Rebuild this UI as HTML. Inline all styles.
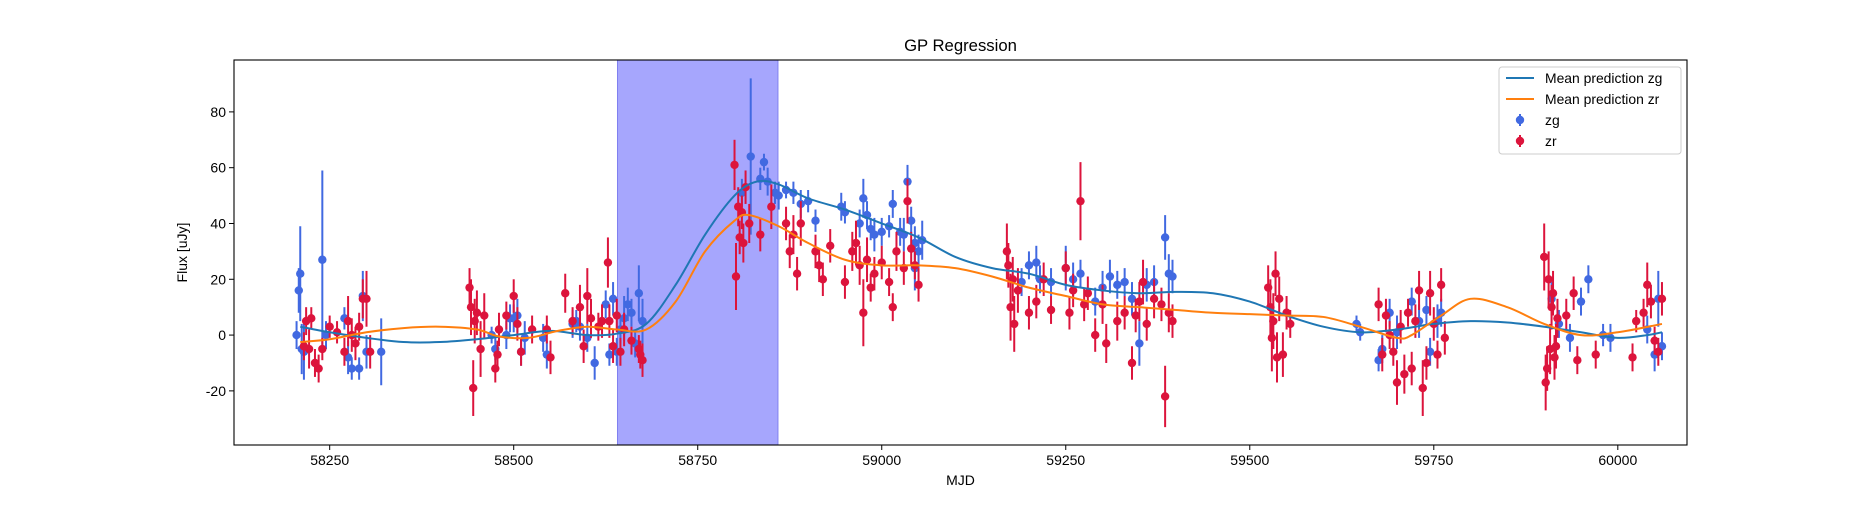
<!DOCTYPE html>
<html><head><meta charset="utf-8"><style>
body{margin:0;background:#fff}
svg text{font-family:"Liberation Sans","DejaVu Sans",sans-serif;fill:#000}
</style></head><body>
<svg id="chart" width="1875" height="500" xmlns="http://www.w3.org/2000/svg">
<rect width="1875" height="500" fill="#fff"/>
<g id="plot"></g>
</svg>
<script>
const zgX=[58205,58208,58210,58212,58215,58240,58245,58270,58275,58280,58290,58295,58300,58320,58470,58475,58490,58495,58500,58505,58510,58515,58540,58545,58580,58585,58590,58600,58610,58625,58630,58635,58640,58645,58650,58655,58660,58665,58670,58675,58810,58822,58835,58840,58845,58855,58860,58870,58880,58890,58900,58910,58945,58950,58970,58975,58980,58985,58990,59000,59010,59015,59025,59030,59035,59040,59045,59050,59055,59045,59190,59200,59210,59215,59230,59250,59260,59270,59290,59300,59310,59320,59330,59340,59350,59360,59370,59385,59390,59395,59645,59650,59675,59680,59690,59700,59720,59730,59740,59745,59755,59760,59910,59920,59935,59950,59960,59980,59990,60040,60050,60055,60060];
const zgY=[0,16,22,-5,-6,27,0,6,-8,-12,-12,14,-6,-6,0,-5,0,6,6,7,-6,-1,-1,-7,4,5,3,-1,-10,11,-7,13,-6,2,6,11,8,-3,15,5,51,64,56,62,55,51,50,52,51,47,48,41,46,44,40,49,43,38,36,37,39,47,37,36,55,41,24,30,34,33,19,25,26,20,19,24,20,22,12,17,21,18,19,13,-3,18,19,35,22,21,4,1,-9,-5,8,1,12,5,9,-6,5,8,13,4,-1,12,20,0,-1,2,-7,13,-4];
const zgE=[5,8,17,9,10,32,5,4,6,4,4,9,6,12,3,4,5,5,5,6,5,6,5,5,5,4,5,5,6,5,4,6,5,5,8,6,5,5,10,8,5,28,4,3,5,4,5,3,4,5,4,4,5,4,5,7,5,4,6,5,4,5,5,6,6,5,8,6,7,6,5,5,6,5,5,8,6,5,5,6,6,5,5,6,8,6,6,8,7,6,3,3,4,5,5,6,5,6,5,5,6,5,6,5,5,5,5,4,5,5,6,10,5];
const zrX=[58215,58218,58222,58225,58230,58235,58240,58250,58260,58270,58275,58280,58285,58290,58295,58300,58305,58440,58442,58445,58447,58450,58455,58460,58475,58478,58480,58490,58500,58505,58510,58525,58545,58550,58570,58580,58590,58595,58600,58605,58615,58620,58628,58630,58635,58640,58645,58650,58660,58670,58672,58675,58800,58802,58805,58807,58810,58812,58815,58820,58835,58850,58870,58875,58880,58885,58890,58910,58915,58920,58930,58950,58960,58965,58970,58975,58980,58985,58990,59000,59010,59015,59020,59030,59035,59040,59045,59050,59170,59172,59175,59178,59180,59185,59200,59210,59220,59230,59250,59255,59260,59270,59275,59280,59290,59300,59305,59320,59330,59340,59345,59350,59355,59360,59370,59380,59385,59390,59395,59525,59528,59530,59532,59535,59537,59540,59545,59550,59555,59675,59680,59685,59690,59695,59700,59705,59710,59715,59720,59725,59730,59735,59740,59745,59750,59755,59760,59765,59900,59902,59904,59906,59908,59910,59912,59914,59916,59918,59930,59940,59945,59970,60020,60025,60035,60040,60045,60050,60055,60060];
const zrY=[-4,5,-5,6,-10,-12,-5,3,1,-6,5,0,-3,3,13,13,-6,17,10,-19,5,8,-5,7,-12,-7,2,7,14,4,-6,2,2,-8,15,5,10,-4,14,6,3,5,26,5,-4,7,-6,2,-2,-5,-7,-9,61,21,46,35,44,33,53,40,36,46,40,30,36,22,40,30,25,20,32,19,30,33,25,8,27,17,22,26,19,10,30,24,48,31,25,18,30,25,10,20,4,16,8,12,20,9,24,8,16,48,11,15,0,11,-3,5,8,-10,7,12,19,4,13,11,-22,8,5,17,10,-1,5,22,-8,13,-7,8,4,11,-7,7,0,-6,-17,3,-14,8,-12,5,16,-19,-10,15,4,-7,18,-1,28,-17,-12,20,-5,10,15,-8,-4,6,7,15,-9,-7,-8,5,8,18,12,-2,-6,13];
const zrE=[5,5,7,4,5,5,4,4,4,5,9,6,6,5,7,10,6,7,10,10,8,8,10,8,5,5,6,5,6,6,5,5,5,6,7,5,8,6,10,7,5,6,9,6,6,6,5,6,5,5,5,6,9,12,7,6,6,7,6,7,6,8,6,6,7,6,8,6,6,6,6,6,7,8,7,12,8,5,6,6,5,5,7,6,8,6,5,6,10,8,12,8,10,8,6,6,6,5,6,6,6,14,6,6,6,7,7,7,6,6,6,7,8,6,7,6,11,7,6,8,10,12,10,8,9,8,8,6,5,6,6,6,5,5,8,6,7,5,6,6,7,10,6,8,6,5,6,6,12,10,8,10,9,8,8,8,8,7,6,6,5,5,5,4,5,8,6,5,5,6];
const mzgX=[58210,58250,58300,58350,58400,58450,58500,58550,58600,58640,58680,58720,58760,58800,58830,58860,58900,58950,59000,59050,59100,59150,59200,59250,59300,59350,59400,59450,59500,59550,59600,59650,59700,59750,59800,59850,59900,59950,60000,60040,60060];
const mzgY=[3,1,-1,-2.5,-2.5,-1.5,0,1.5,0,0.5,4,18,36,50,55,54,49,45,40,35,28,24,22,18,16,15,15.5,15,12,7,3,1,2,4,5,4.5,3,1,-1,0,1];
const mzrX=[58210,58250,58300,58350,58400,58450,58480,58520,58560,58600,58640,58680,58720,58760,58800,58820,58860,58900,58950,59000,59050,59100,59150,59200,59250,59300,59350,59400,59450,59500,59550,59600,59650,59700,59720,59760,59800,59850,59900,59950,60000,60060];
const mzrY=[-2.5,-1.5,1,2.5,3,2,-0.5,-1,1.5,3,2,2,12,30,41,43,39,33,27,25,25,24,21,17,14,11,10,9,8,7.5,7,6.5,3,-1,0,7,13,10,4,0,1,4];
const xTicks=[58250,58500,58750,59000,59250,59500,59750,60000];
const yTicks=[-20,0,20,40,60,80];
const shade=[58641,58859];

const L=234,R=1687,T=60,B=445,XMIN=58120,XMAX=60094,YMIN=-39.4,YMAX=98.6;
const sx=v=>L+(v-XMIN)/(XMAX-XMIN)*(R-L);
const sy=v=>B-(v-YMIN)/(YMAX-YMIN)*(B-T);
const NS='http://www.w3.org/2000/svg';
const g=document.getElementById('plot');
function mk(tag,attrs,parent){const e=document.createElementNS(NS,tag);for(const k in attrs)e.setAttribute(k,attrs[k]);(parent||g).appendChild(e);return e;}
const clip=mk('clipPath',{id:'pc'});mk('rect',{x:L,y:T,width:R-L,height:B-T},clip);

const sh=mk('rect',{x:sx(shade[0]),y:T,width:sx(shade[1])-sx(shade[0]),height:B-T,fill:'#a6a6fd',stroke:'#8080f0','stroke-width':1});



function series(X,Y,E,col,name){
  const gg=mk('g',{'clip-path':'url(#pc)'});
  
  
  for(let i=0;i<X.length;i++){
    const l=mk('line',{x1:sx(X[i]),x2:sx(X[i]),y1:sy(Y[i]-E[i]),y2:sy(Y[i]+E[i]),stroke:col,'stroke-width':2},gg);
    
    
    const c=mk('circle',{cx:sx(X[i]),cy:sy(Y[i]),r:4.2,fill:col},gg);
    
    
  }
}
function curve(X,Y,col,name){
  const p=X.map((x,i)=>[sx(x),sy(Y[i])]);
  let d='M'+p[0][0]+','+p[0][1];
  for(let i=0;i<p.length-1;i++){
    const p0=p[Math.max(0,i-1)],p1=p[i],p2=p[i+1],p3=p[Math.min(p.length-1,i+2)];
    d+=' C'+(p1[0]+(p2[0]-p0[0])/6)+','+(p1[1]+(p2[1]-p0[1])/6)+' '+(p2[0]-(p3[0]-p1[0])/6)+','+(p2[1]-(p3[1]-p1[1])/6)+' '+p2[0]+','+p2[1];
  }
  const e=mk('path',{d:d,fill:'none',stroke:col,'stroke-width':2,'clip-path':'url(#pc)'});
  
  
}
series(zgX,zgY,zgE,'#4169e1','zg');
series(zrX,zrY,zrE,'#dc143c','zr');
curve(mzgX,mzgY,'#1f77b4','mean-prediction-zg');
curve(mzrX,mzrY,'#ff7f0e','mean-prediction-zr');

const fr=mk('rect',{x:L,y:T,width:R-L,height:B-T,fill:'none',stroke:'#000','stroke-width':1.1});


xTicks.forEach(t=>{
  const l=mk('line',{x1:sx(t),x2:sx(t),y1:B,y2:B+5,stroke:'#000'});
  
  
  const tx=mk('text',{x:sx(t),y:B+20,'font-size':14,'text-anchor':'middle'});tx.textContent=t;
  
  
});
yTicks.forEach(t=>{
  const l=mk('line',{x1:L-5,x2:L,y1:sy(t),y2:sy(t),stroke:'#000'});
  
  
  const tx=mk('text',{x:L-8,y:sy(t)+5,'font-size':14,'text-anchor':'end'});tx.textContent=t;
  
  
});
function txt(s,a,name){const e=mk('text',a);e.textContent=s;return e;}
txt('GP Regression',{x:(L+R)/2,y:51,'font-size':16.7,'text-anchor':'middle'},'chart-title');
txt('MJD',{x:(L+R)/2,y:485,'font-size':14,'text-anchor':'middle'},'x-axis-title');
txt('Flux [uJy]',{x:187,y:(T+B)/2,'font-size':14,'text-anchor':'middle',transform:'rotate(-90 187 '+(T+B)/2+')'},'y-axis-title');

const lg=mk('g',{});


mk('rect',{x:1499,y:67,width:182,height:87,rx:3,fill:'#fff','fill-opacity':0.8,stroke:'#ccc'},lg);
const items=[['Mean prediction zg','line','#1f77b4'],['Mean prediction zr','line','#ff7f0e'],['zg','pt','#4169e1'],['zr','pt','#dc143c']];
items.forEach((it,i)=>{
  const y=78+i*21;
  const eg=mk('g',{},lg);
  
  
  if(it[1]=='line'){mk('line',{x1:1506,x2:1534,y1:y,y2:y,stroke:it[2],'stroke-width':2},eg);}
  else{mk('line',{x1:1520,x2:1520,y1:y-6,y2:y+6,stroke:it[2],'stroke-width':2},eg);mk('circle',{cx:1520,cy:y,r:4.2,fill:it[2]},eg);}
  const t=mk('text',{x:1545,y:y+5,'font-size':13.9},eg);t.textContent=it[0];
});
</script>
</body></html>
